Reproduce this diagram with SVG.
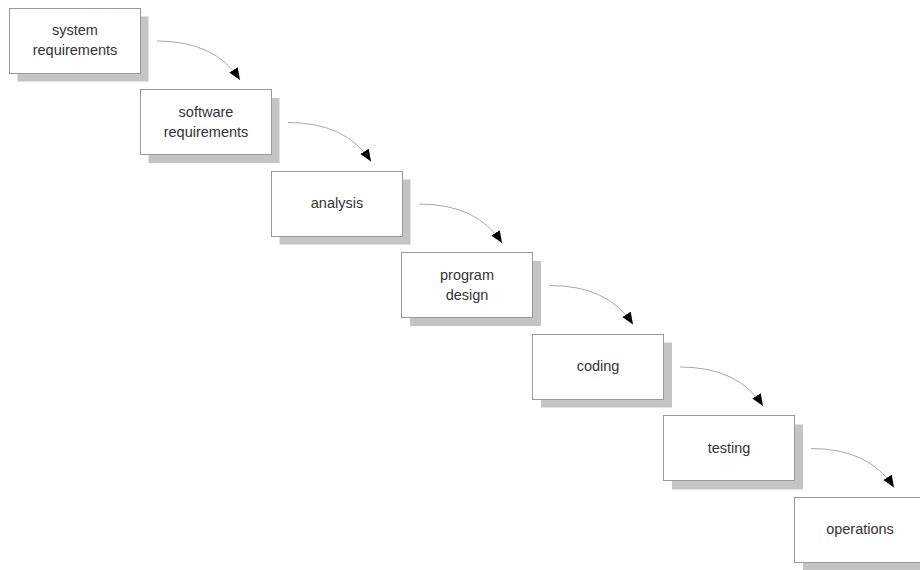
<svg xmlns="http://www.w3.org/2000/svg" width="920" height="570" viewBox="0 0 920 570">
<defs>
<style>
.shadow{fill:#c4c4c4;}
.box{fill:#fff;stroke:#9a9a9a;stroke-width:1;}
.lbl{font-family:"Liberation Sans",Arial,sans-serif;font-size:14.5px;fill:#333;text-anchor:middle;}
.conn{fill:none;stroke:#a8a8a8;stroke-width:1;marker-end:url(#ah);}
</style>
<marker id="ah" markerUnits="userSpaceOnUse" markerWidth="14" markerHeight="12" refX="12" refY="5" orient="auto">
<path d="M0,0 L12,5 L0,10 Z" fill="#000"/>
</marker>
</defs>
<rect width="920" height="570" fill="#fff"/>
<g id="n1">
<rect class="shadow" x="17.5" y="16.5" width="131" height="65"/>
<rect class="box" x="9.5" y="8.5" width="131" height="65"/>
<text class="lbl" x="75" y="35">system</text>
<text class="lbl" x="75" y="55">requirements</text>
</g>
<g id="n2">
<rect class="shadow" x="148.5" y="98" width="131" height="65"/>
<rect class="box" x="140.5" y="89.5" width="131" height="65"/>
<text class="lbl" x="206" y="116.5">software</text>
<text class="lbl" x="206" y="136.5">requirements</text>
</g>
<g id="n3">
<rect class="shadow" x="279.5" y="179.5" width="131" height="65"/>
<rect class="box" x="271.5" y="171.5" width="131" height="65"/>
<text class="lbl" x="337" y="208">analysis</text>
</g>
<g id="n4">
<rect class="shadow" x="410" y="261" width="131" height="65"/>
<rect class="box" x="401.5" y="252.5" width="131" height="65"/>
<text class="lbl" x="467" y="279.5">program</text>
<text class="lbl" x="467" y="299.5">design</text>
</g>
<g id="n5">
<rect class="shadow" x="541" y="342.5" width="131" height="65"/>
<rect class="box" x="532.5" y="334.5" width="131" height="65"/>
<text class="lbl" x="598" y="371">coding</text>
</g>
<g id="n6">
<rect class="shadow" x="672" y="424.5" width="131" height="65"/>
<rect class="box" x="663.5" y="415.5" width="131" height="65"/>
<text class="lbl" x="729" y="452.5">testing</text>
</g>
<g id="n7">
<rect class="shadow" x="803" y="506" width="131" height="65"/>
<rect class="box" x="794.5" y="497.5" width="131" height="65"/>
<text class="lbl" x="860" y="534">operations</text>
</g>
<g id="connectors">
<path class="conn" d="M157,41 Q215,41 240,80"/>
<path class="conn" d="M288,122.5 Q346,122.5 371,161.5"/>
<path class="conn" d="M419,204 Q477,204 502,243"/>
<path class="conn" d="M550,285.5 Q608,285.5 633,324.5"/>
<path class="conn" d="M680,367 Q738,367 763,406"/>
<path class="conn" d="M811,448.5 Q869,448.5 894,487.5"/>
</g>
</svg>
